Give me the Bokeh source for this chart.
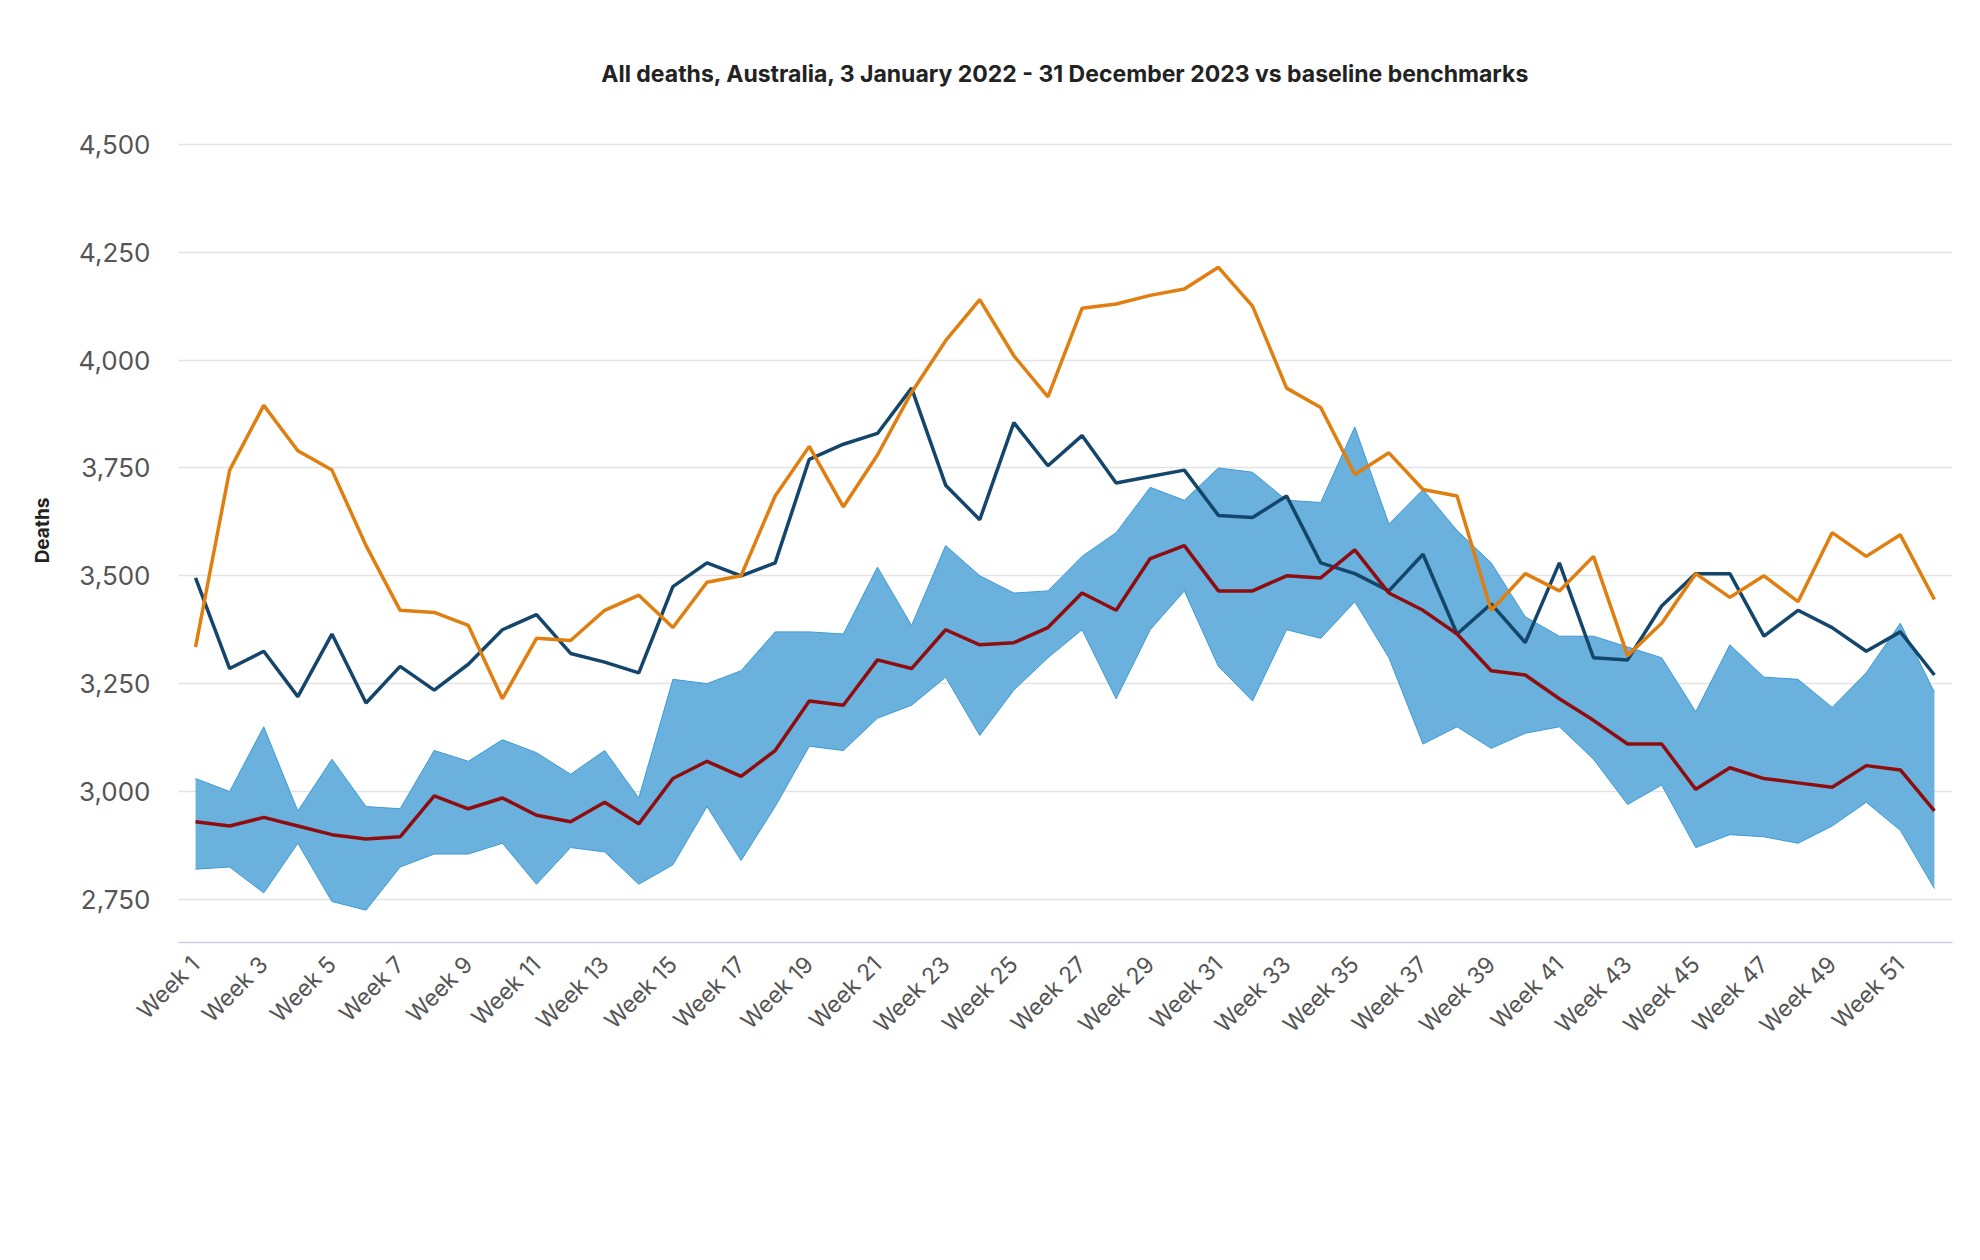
from bokeh.plotting import figure
from bokeh.models import Legend, LegendItem, FixedTicker, Title, NumeralTickFormatter, Range1d, ColumnDataSource, Label
from bokeh.embed import file_html
from bokeh.resources import INLINE

weeks = list(range(1, 53))
deaths_2023 = [3495,3285,3325,3220,3365,3205,3290,3235,3295,3375,3410,3320,3300,3275,3475,3530,3500,3530,3770,3805,3830,3935,3710,3630,3855,3755,3825,3715,3730,3745,3640,3635,3685,3530,3505,3465,3550,3365,3435,3345,3530,3310,3305,3430,3505,3505,3360,3420,3380,3325,3370,3270]
deaths_2022 = [3335,3745,3895,3790,3745,3570,3420,3415,3385,3215,3355,3350,3420,3455,3380,3485,3500,3685,3800,3660,3780,3925,4045,4140,4010,3915,4120,4130,4150,4165,4215,4125,3935,3890,3735,3785,3700,3685,3420,3505,3465,3545,3315,3390,3505,3450,3500,3440,3600,3545,3595,3445]
baseline_avg = [2930,2920,2940,2920,2900,2890,2895,2990,2960,2985,2945,2930,2975,2925,3030,3070,3035,3095,3210,3200,3305,3285,3375,3340,3345,3380,3460,3420,3540,3570,3465,3465,3500,3495,3560,3460,3420,3365,3280,3270,3215,3165,3110,3110,3005,3055,3030,3020,3010,3060,3050,2955]
range_upper = [3030,3000,3150,2955,3075,2965,2960,3095,3070,3120,3090,3040,3095,2985,3260,3250,3280,3370,3370,3365,3520,3385,3570,3500,3460,3465,3545,3600,3705,3675,3750,3740,3675,3670,3845,3620,3700,3605,3530,3405,3360,3360,3335,3310,3185,3340,3265,3260,3195,3275,3390,3230]
range_lower = [2820,2825,2765,2880,2745,2725,2825,2855,2855,2880,2785,2870,2860,2785,2830,2965,2840,2965,3105,3095,3170,3200,3265,3130,3235,3310,3375,3215,3375,3465,3290,3210,3375,3355,3440,3310,3110,3150,3100,3135,3150,3075,2970,3015,2870,2900,2895,2880,2920,2975,2910,2775]
week_labels = {w: f"Week {w}" for w in weeks}

FONT = "Inter"
src = ColumnDataSource(dict(x=weeks, d23=deaths_2023, d22=deaths_2022, avg=baseline_avg, up=range_upper, lo=range_lower))

p = figure(frame_width=1774, frame_height=824, output_backend="svg", toolbar_location=None,
           x_range=Range1d(0.5, 52.53), y_range=Range1d(2650, 4560),
           min_border_left=178, min_border_right=12, min_border_top=118, min_border_bottom=302)
p.title = None
p.add_layout(Title(text="All deaths, Australia, 3 January 2022 - 31 December 2023 vs baseline benchmarks",
                   align="center", text_font=FONT, text_font_size="23px", text_font_style="bold",
                   text_color="#222222", standoff=62), "above")
p.outline_line_color = None
p.background_fill_color = "white"
p.xgrid.grid_line_color = None
p.ygrid.grid_line_color = "#e3e3e3"
p.ygrid.grid_line_width = 1.5

p.varea(x="x", y1="lo", y2="up", source=src, fill_color="#5aaad9", fill_alpha=0.9)
p.line("x", "up", source=src, line_color="#3d9ad4", line_width=1)
p.line("x", "lo", source=src, line_color="#3d9ad4", line_width=1)
dot = p.scatter(x=[float("nan")], y=[float("nan")], size=32, fill_color="#3f9bd4", line_color=None)
l23 = p.line("x", "d23", source=src, line_color="#14466b", line_width=3.5)
l22 = p.line("x", "d22", source=src, line_color="#e07f10", line_width=3.5)
lavg = p.line("x", "avg", source=src, line_color="#8f0c0f", line_width=3.5)

p.yaxis.ticker = FixedTicker(ticks=[2750, 3000, 3250, 3500, 3750, 4000, 4250, 4500])
p.yaxis.formatter = NumeralTickFormatter(format="0,0")
p.yaxis.axis_line_color = None
p.yaxis.major_tick_line_color = None
p.yaxis.minor_tick_line_color = None
p.yaxis.major_label_text_font = FONT
p.yaxis.major_label_text_font_size = "26px"
p.yaxis.major_label_text_color = "#555555"
p.yaxis.major_label_standoff = 22
p.yaxis.axis_label = "Deaths"
p.yaxis.axis_label_text_font = FONT
p.yaxis.axis_label_text_font_size = "19px"
p.yaxis.axis_label_text_font_style = "bold"
p.yaxis.axis_label_text_color = "#222222"
p.yaxis.axis_label_standoff = 22

p.xaxis.ticker = FixedTicker(ticks=list(range(1, 53, 2)))
p.xaxis.major_label_overrides = week_labels
p.xaxis.major_label_orientation = 0.785
p.xaxis.axis_line_color = "#c8d0e0"
p.xaxis.axis_line_width = 1.5
p.xaxis.major_tick_line_color = None
p.xaxis.minor_tick_line_color = None
p.xaxis.major_label_text_font = FONT
p.xaxis.major_label_text_font_size = "23px"
p.xaxis.major_label_text_color = "#555555"
p.xaxis.major_label_standoff = 12

legend = Legend(items=[LegendItem(label="baseline range", renderers=[dot]),
                       LegendItem(label="2023 deaths", renderers=[l23]),
                       LegendItem(label="2022 deaths", renderers=[l22]),
                       LegendItem(label="baseline average deaths", renderers=[lavg])],
                orientation="horizontal", location=(170, -208), border_line_color=None,
                background_fill_alpha=0,
                label_text_font=FONT, label_text_font_size="23px", label_text_font_style="bold",
                label_text_color="#222222", glyph_width=36, glyph_height=34, spacing=90,
                margin=0, padding=0, label_standoff=12)
p.add_layout(legend, "center")
p.add_layout(Label(x=-166, y=-262, x_units="screen", y_units="screen",
                   text="Source: Australian Bureau of Statistics, Provisional Mortality Statistics Jan - Dec 2023",
                   text_font=FONT, text_font_size="22px", text_color="#666666",
                   text_baseline="middle"))

open("out.html", "w").write(file_html(p, INLINE))
